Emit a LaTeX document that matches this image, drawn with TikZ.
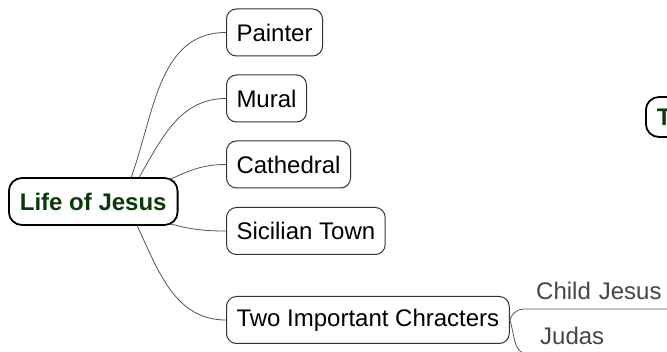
\documentclass[tikz,border=0pt]{standalone}
\usepackage{fontspec}
\setmainfont{Liberation Sans}
\definecolor{topicgreen}{RGB}{10,58,10}
\definecolor{leafgray}{RGB}{70,70,70}
\definecolor{linegray}{RGB}{85,85,85}
\tikzset{central/.style={draw=black, line width=1.8pt, rounded corners=13pt, fill=white,
           text=topicgreen, font=\bfseries\fontsize{24}{28}\selectfont,
           minimum height=47pt, inner xsep=11pt, anchor=west},
         topic/.style={draw=black!80, line width=1pt, rounded corners=10pt, fill=white,
           font=\fontsize{24}{28}\selectfont, minimum height=47pt, inner xsep=10pt, anchor=west},
         leaf/.style={text=leafgray, font=\fontsize{24}{28}\selectfont, anchor=south west,
           text width=140pt, align=left, inner xsep=12pt, inner ysep=0pt,
           text height=17pt, text depth=9pt},
         branch/.style={draw=linegray, line width=0.8pt}}

\begin{document}
\begin{tikzpicture}[x=1pt, y=1pt]
\useasboundingbox (0,-352) rectangle (667,0);
\clip (0,-352) rectangle (667,0);
\fill[white] (0,-352) rectangle (667,0);
\node[central] (life) at (8,-201.5) {Life of Jesus};
\node[topic] (painter) at (226,-32.5) {Painter};
\node[topic] (mural) at (226,-98.5) {Mural};
\node[topic] (cathedral) at (226,-164.5) {Cathedral};
\node[topic] (sicilian) at (226,-231) {Sicilian Town};
\node[topic] (two) at (226,-320) {Two Important Chracters};
\node[leaf] (child) at (524,-309) {Child Jesus};
\node[leaf] (judas) at (528,-354) {Judas};
\node[central, minimum height=40pt, text width=60pt, align=left] (other) at (645,-117) {T};
\draw[branch] ([xshift=38pt]life.north) to[out=70,in=180] (painter.west);
\draw[branch] ([xshift=46pt]life.north) to[out=60,in=180] (mural.west);
\draw[branch] ([xshift=-10pt,yshift=-3pt]life.north east) to[out=25,in=180] (cathedral.west);
\draw[branch] ([xshift=-8pt,yshift=2pt]life.south east) to[out=-15,in=180] (sicilian.west);
\draw[branch] ([xshift=44pt]life.south) to[out=-65,in=180] (two.west);
\draw[branch] (two.east) to[out=70,in=180] (child.south west) -- (child.south east);
\draw[branch] (two.east) to[out=-70,in=180] (judas.south west) -- (judas.south east);
\end{tikzpicture}
\end{document}
